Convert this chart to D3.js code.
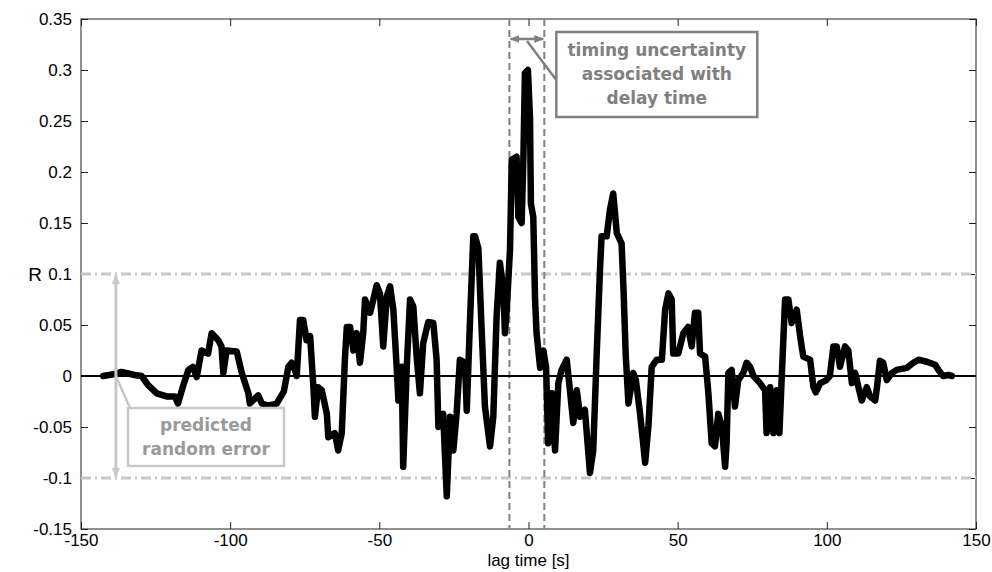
<!DOCTYPE html>
<html>
<head>
<meta charset="utf-8">
<script src="https://cdn.jsdelivr.net/npm/d3@7"></script>
<style>
  body { margin: 0; background: #fff; }
  svg { display: block; }
</style>
</head>
<body>
<svg id="chart" width="992" height="572"></svg>
<script>
// DATA
const lagTime = [
  -142.6, -138.6, -136.4, -132.0, -129.7, -127.5, -124.6, -121.3, -118.5, -117.5,
  -115.8, -114.0, -112.5, -111.2, -109.6, -107.4, -106.2, -104.0, -102.9, -102.3,
  -101.2, -97.8, -96.1, -93.9, -93.4, -90.6, -89.4, -87.3, -84.4, -82.0,
  -80.5, -79.4, -78.3, -77.7, -76.6, -75.5, -74.4, -73.2, -72.1, -71.6,
  -70.5, -69.3, -67.6, -67.1, -64.9, -63.8, -62.6, -61.5, -60.9, -59.8,
  -58.7, -57.6, -56.5, -55.4, -54.8, -53.1, -52.0, -50.9, -49.8, -48.7,
  -47.5, -46.4, -45.3, -44.2, -43.6, -42.5, -42.0, -40.8, -39.7, -38.6,
  -37.5, -36.4, -35.3, -33.6, -31.9, -30.8, -30.2, -28.6, -27.4, -26.3,
  -25.2, -24.1, -23.0, -21.3, -20.7, -19.6, -18.5, -17.9, -16.8, -15.7,
  -14.6, -12.9, -11.8, -10.7, -9.6, -8.4, -7.9, -7.3, -6.2, -5.6,
  -4.0, -3.4, -2.3, -1.7, -1.2, -0.2, 0.5, 0.8, 1.6, 2.2,
  2.7, 3.9, 5.0, 5.9, 6.6, 7.8, 8.9, 10.0, 11.1, 12.8,
  13.9, 15.0, 16.2, 17.3, 18.9, 20.6, 21.7, 22.9, 24.0, 24.5,
  26.2, 27.3, 28.4, 29.6, 31.2, 31.9, 32.6, 33.5, 35.1, 36.0,
  37.4, 39.1, 40.2, 41.3, 43.0, 44.7, 45.8, 46.9, 48.0, 48.5,
  50.2, 51.9, 53.5, 54.7, 55.8, 56.9, 57.5, 59.2, 60.3, 61.4,
  62.5, 63.6, 64.8, 65.9, 66.4, 67.0, 68.1, 69.2, 70.3, 72.0,
  73.1, 74.3, 75.4, 77.6, 79.3, 79.8, 81.0, 82.1, 83.2, 84.1,
  84.9, 86.0, 87.1, 88.2, 89.9, 91.0, 92.1, 94.4, 95.5, 96.3,
  97.8, 99.9, 101.0, 102.2, 103.3, 104.4, 106.1, 107.2, 108.4, 109.5,
  110.6, 111.7, 113.4, 114.5, 116.2, 116.8, 117.8, 118.9, 120.1, 121.8,
  123.4, 126.8, 129.0, 130.7, 133.5, 136.3, 137.4, 139.0, 140.7, 141.9
];

const corrR = [
  0.000, 0.002, 0.004, 0.001, 0.000, -0.009, -0.017, -0.020, -0.020, -0.027,
  -0.010, 0.006, 0.009, -0.001, 0.025, 0.022, 0.042, 0.035, 0.029, 0.003,
  0.025, 0.024, 0.003, -0.017, -0.027, -0.019, -0.027, -0.029, -0.027, -0.015,
  0.009, 0.013, 0.006, 0.000, 0.055, 0.055, 0.035, 0.039, -0.011, -0.040,
  -0.011, -0.014, -0.037, -0.060, -0.056, -0.073, -0.056, 0.019, 0.048, 0.048,
  0.025, 0.042, 0.013, 0.042, 0.075, 0.062, 0.075, 0.089, 0.081, 0.029,
  0.078, 0.088, 0.065, 0.009, -0.024, 0.009, -0.089, 0.009, 0.075, 0.068,
  0.019, -0.017, 0.032, 0.053, 0.052, 0.016, -0.050, -0.037, -0.118, -0.040,
  -0.073, -0.037, 0.016, 0.013, -0.034, 0.055, 0.137, 0.137, 0.125, 0.045,
  -0.030, -0.069, -0.040, 0.058, 0.111, 0.084, 0.042, 0.065, 0.124, 0.212,
  0.215, 0.156, 0.150, 0.215, 0.297, 0.300, 0.254, 0.169, 0.156, 0.075,
  0.042, 0.008, 0.025, 0.008, -0.066, -0.017, -0.073, -0.007, 0.006, 0.016,
  -0.014, -0.046, -0.014, -0.040, -0.033, -0.095, -0.073, 0.025, 0.107, 0.137,
  0.137, 0.163, 0.179, 0.140, 0.130, 0.081, 0.020, -0.027, 0.003, -0.004,
  -0.037, -0.085, -0.049, 0.009, 0.016, 0.016, 0.065, 0.081, 0.075, 0.022,
  0.022, 0.042, 0.048, 0.029, 0.062, 0.062, 0.022, 0.019, -0.017, -0.066,
  -0.069, -0.037, -0.049, -0.089, -0.066, 0.003, 0.006, -0.030, -0.004, 0.003,
  0.013, 0.009, 0.000, -0.007, -0.014, -0.056, -0.011, -0.056, -0.014, -0.056,
  0.000, 0.075, 0.075, 0.052, 0.065, 0.040, 0.019, 0.016, -0.011, -0.016,
  -0.007, -0.004, 0.000, 0.029, 0.029, 0.009, 0.029, 0.025, -0.007, 0.003,
  -0.011, -0.024, -0.011, -0.020, -0.024, -0.011, 0.015, 0.013, -0.004, 0.003,
  0.006, 0.008, 0.013, 0.016, 0.014, 0.011, 0.006, 0.000, 0.001, 0.000
];

const xTicks = [-150, -100, -50, 0, 50, 100, 150];
const xTickLabels = ["-150", "-100", "-50", "0", "50", "100", "150"];
const yTicks = [-0.15, -0.1, -0.05, 0, 0.05, 0.1, 0.15, 0.2, 0.25, 0.3, 0.35];
const yTickLabels = ["-0.15", "-0.1", "-0.05", "0", "0.05", "0.1", "0.15", "0.2", "0.25", "0.3", "0.35"];

const randomError = 0.1;            // predicted random error band (+/-)
const delayWindow = [-6.4, 5.3];    // timing uncertainty of the delay time
const errorArrowAt = -138.3;
const timingNote = ["timing uncertainty", "associated with", "delay time"];
const errorNote = ["predicted", "random error"];

// CANVAS SETUP
const svg = d3.select("#chart");
const margin = { top: 19, right: 16, bottom: 43, left: 81 };
const width = +svg.attr("width") - margin.left - margin.right,
  height = +svg.attr("height") - margin.top - margin.bottom;

const g = svg.append("g").attr("transform", `translate(${margin.left},${margin.top})`);

const x = d3.scaleLinear().domain([-150, 150]).range([0, width]);
const y = d3.scaleLinear().domain([-0.15, 0.35]).range([height, 0]);

const defs = svg.append("defs");
function arrowMarker(id, color, size) {
  defs.append("marker")
    .attr("id", id)
    .attr("viewBox", "0 0 10 10")
    .attr("refX", 9)
    .attr("refY", 5)
    .attr("markerWidth", size)
    .attr("markerHeight", size)
    .attr("markerUnits", "userSpaceOnUse")
    .attr("orient", "auto-start-reverse")
    .append("path")
    .attr("d", "M0,1 L10,5 L0,9 Z")
    .attr("fill", color);
}
arrowMarker("arrowLight", "#c8c8c8", 10);
arrowMarker("arrowDark", "#808080", 10);

// AXES
const yTickFmt = (d) => yTickLabels[yTicks.indexOf(d)];
const xTickFmt = (d) => xTickLabels[xTicks.indexOf(d)];

g.append("g")
  .attr("class", "axis")
  .call(d3.axisLeft(y).tickValues(yTicks).tickFormat(yTickFmt).tickSize(-7).tickPadding(9));
g.append("g")
  .attr("class", "axis")
  .attr("transform", `translate(${width},0)`)
  .call(d3.axisRight(y).tickValues(yTicks).tickFormat("").tickSize(-7));
g.append("g")
  .attr("class", "axis")
  .attr("transform", `translate(0,${height})`)
  .call(d3.axisBottom(x).tickValues(xTicks).tickFormat(xTickFmt).tickSize(-7).tickPadding(5));
g.append("g")
  .attr("class", "axis")
  .call(d3.axisTop(x).tickValues(xTicks).tickFormat("").tickSize(-7));

g.selectAll(".axis .domain").remove();
g.selectAll(".axis line").attr("stroke", "#222").attr("stroke-width", 1);
g.selectAll(".axis text")
  .attr("fill", "#000")
  .style("font-family", "Liberation Sans, Arial, sans-serif")
  .style("font-size", "17px");

g.append("rect")
  .attr("width", width)
  .attr("height", height)
  .attr("fill", "none")
  .attr("stroke", "#222")
  .attr("stroke-width", 1);

svg.append("text")
  .attr("x", margin.left + x(0))
  .attr("y", 566)
  .attr("text-anchor", "middle")
  .style("font-family", "Liberation Sans, Arial, sans-serif")
  .style("font-size", "17px")
  .text("lag time [s]");

svg.append("text")
  .attr("x", 35)
  .attr("y", margin.top + y(0.093))
  .attr("text-anchor", "middle")
  .style("font-family", "Liberation Sans, Arial, sans-serif")
  .style("font-size", "19px")
  .text("R");

// ERROR BAND
g.selectAll(".errLine")
  .data([randomError, -randomError])
  .join("line")
  .attr("class", "errLine")
  .attr("x1", x(-150))
  .attr("x2", x(150))
  .attr("y1", (d) => y(d))
  .attr("y2", (d) => y(d))
  .attr("stroke", "#c8c8c8")
  .attr("stroke-width", 3)
  .attr("stroke-dasharray", "10,4,2,4");

// DELAY WINDOW
g.selectAll(".delayLine")
  .data(delayWindow)
  .join("line")
  .attr("class", "delayLine")
  .attr("x1", (d) => x(d))
  .attr("x2", (d) => x(d))
  .attr("y1", 0)
  .attr("y2", height)
  .attr("stroke", "#808080")
  .attr("stroke-width", 2)
  .attr("stroke-dasharray", "7,4");

// ZERO LINE + CORRELATION CURVE
g.append("line")
  .attr("x1", 0)
  .attr("x2", width)
  .attr("y1", y(0))
  .attr("y2", y(0))
  .attr("stroke", "#000")
  .attr("stroke-width", 2);

const line = d3.line()
  .x((d, i) => x(lagTime[i]))
  .y((d) => y(d));

g.append("path")
  .datum(corrR)
  .attr("d", line)
  .attr("fill", "none")
  .attr("stroke", "#000")
  .attr("stroke-width", 6.5)
  .attr("stroke-linejoin", "round")
  .attr("stroke-linecap", "round");

// ANNOTATION: TIMING UNCERTAINTY
const tBox = { x: x(delayWindow[1]) + 12, y: 13, w: 201, h: 85 };

g.append("line")
  .attr("x1", x(delayWindow[0]) + 1)
  .attr("x2", x(delayWindow[1]) - 1)
  .attr("y1", 20)
  .attr("y2", 20)
  .attr("stroke", "#808080")
  .attr("stroke-width", 2.5)
  .attr("marker-start", "url(#arrowDark)")
  .attr("marker-end", "url(#arrowDark)");

g.append("line")
  .attr("x1", x(-0.5))
  .attr("y1", 22)
  .attr("x2", tBox.x)
  .attr("y2", 61)
  .attr("stroke", "#808080")
  .attr("stroke-width", 2.5);

g.append("rect")
  .attr("x", tBox.x)
  .attr("y", tBox.y)
  .attr("width", tBox.w)
  .attr("height", tBox.h)
  .attr("fill", "#fff")
  .attr("stroke", "#808080")
  .attr("stroke-width", 2.5);

g.append("g")
  .selectAll("text")
  .data(timingNote)
  .join("text")
  .attr("x", tBox.x + tBox.w / 2)
  .attr("y", (d, i) => tBox.y + 24 + i * 24)
  .attr("text-anchor", "middle")
  .attr("fill", "#808080")
  .style("font-family", "DejaVu Sans, Verdana, sans-serif")
  .style("font-weight", "bold")
  .style("font-size", "17px")
  .text((d) => d);

// ANNOTATION: PREDICTED RANDOM ERROR
const eBox = { x: 47, y: 389, w: 156, h: 58 };

g.append("line")
  .attr("x1", x(errorArrowAt))
  .attr("x2", x(errorArrowAt))
  .attr("y1", y(randomError) + 1)
  .attr("y2", y(-randomError) - 1)
  .attr("stroke", "#c8c8c8")
  .attr("stroke-width", 3)
  .attr("marker-start", "url(#arrowLight)")
  .attr("marker-end", "url(#arrowLight)");

g.append("line")
  .attr("x1", x(errorArrowAt))
  .attr("y1", y(0))
  .attr("x2", eBox.x + 2)
  .attr("y2", eBox.y)
  .attr("stroke", "#c8c8c8")
  .attr("stroke-width", 2.5);

g.append("rect")
  .attr("x", eBox.x)
  .attr("y", eBox.y)
  .attr("width", eBox.w)
  .attr("height", eBox.h)
  .attr("fill", "#fff")
  .attr("stroke", "#c8c8c8")
  .attr("stroke-width", 2.5);

g.append("g")
  .selectAll("text")
  .data(errorNote)
  .join("text")
  .attr("x", eBox.x + eBox.w / 2)
  .attr("y", (d, i) => eBox.y + 23 + i * 24)
  .attr("text-anchor", "middle")
  .attr("fill", "#9a9a9a")
  .style("font-family", "DejaVu Sans, Verdana, sans-serif")
  .style("font-weight", "bold")
  .style("font-size", "17px")
  .text((d) => d);
</script>
</body>
</html>
